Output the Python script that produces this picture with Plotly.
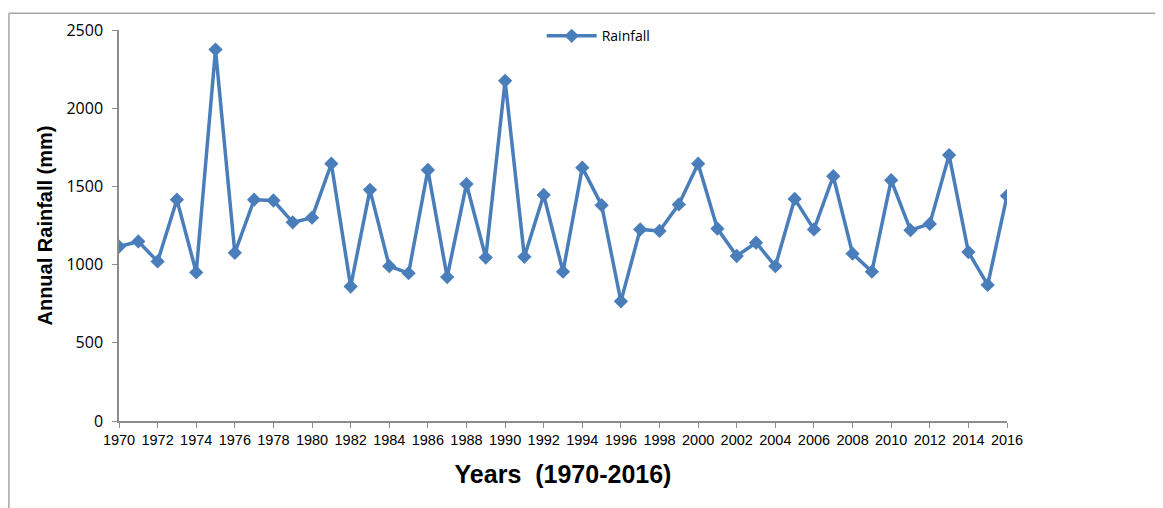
import plotly.graph_objects as go

years = list(range(1970, 2017))
rainfall = [
    1115, 1148, 1020, 1415, 950, 2375, 1075, 1415, 1410, 1270,
    1300, 1645, 860, 1478, 990, 945, 1605, 920, 1515, 1045,
    2175, 1050, 1445, 955, 1620, 1380, 765, 1225, 1215, 1385,
    1645, 1230, 1055, 1140, 990, 1420, 1225, 1565, 1070, 955,
    1540, 1220, 1260, 1700, 1080, 870, 1440,
]
x_ticks = list(range(1970, 2017, 2))
y_ticks = [0, 500, 1000, 1500, 2000, 2500]

blue = "#4A7EBB"
axis_grey = "#8C8C8C"

# page body adds an 8px margin, so the figure is sized a bit smaller
fig = go.Figure()
fig.add_trace(go.Scatter(
    x=years, y=rainfall, mode="lines+markers", name="Rainfall",
    line=dict(color=blue, width=3.5),
    marker=dict(symbol="diamond", size=11, color=blue),
))

fig.update_layout(
    width=1155, height=500,
    margin=dict(l=111, r=156, t=19, b=87),
    plot_bgcolor="white", paper_bgcolor="white",
    font=dict(family="Liberation Sans, Arial, sans-serif", color="black"),
    showlegend=True,
    legend=dict(
        x=0.476, y=1.025, xanchor="left", yanchor="top", itemwidth=50,
        bgcolor="rgba(0,0,0,0)", font=dict(size=14, family="Open Sans, sans-serif"),
    ),
    shapes=[
        dict(type="line", xref="paper", yref="paper",
             x0=-0.124, x1=1.2, y0=1.043, y1=1.043,
             line=dict(color="#A6A6A6", width=1.5)),
        dict(type="line", xref="paper", yref="paper",
             x0=-0.124, x1=-0.124, y0=-0.25, y1=1.043,
             line=dict(color="#A6A6A6", width=1.5)),
    ],
)

fig.update_xaxes(
    range=[1970, 2016], tickvals=x_ticks, ticktext=[str(t) for t in x_ticks],
    showgrid=False, zeroline=False, showline=True, linecolor=axis_grey, linewidth=1.5,
    ticks="outside", ticklen=5, tickcolor=axis_grey, tickfont=dict(size=14.5),
    title=dict(text="<b>Years  (1970-2016)</b>", font=dict(size=25), standoff=18),
)
fig.update_yaxes(
    range=[0, 2500], tickvals=y_ticks,
    showgrid=False, zeroline=False, showline=True, linecolor=axis_grey, linewidth=1.5,
    ticks="outside", ticklen=5, tickcolor=axis_grey, ticklabelstandoff=6,
    tickfont=dict(size=16, family="Open Sans, sans-serif"),
    title=dict(text="<b>Annual Rainfall (mm)</b>", font=dict(size=20), standoff=8),
)

fig.write_html("out.html")
